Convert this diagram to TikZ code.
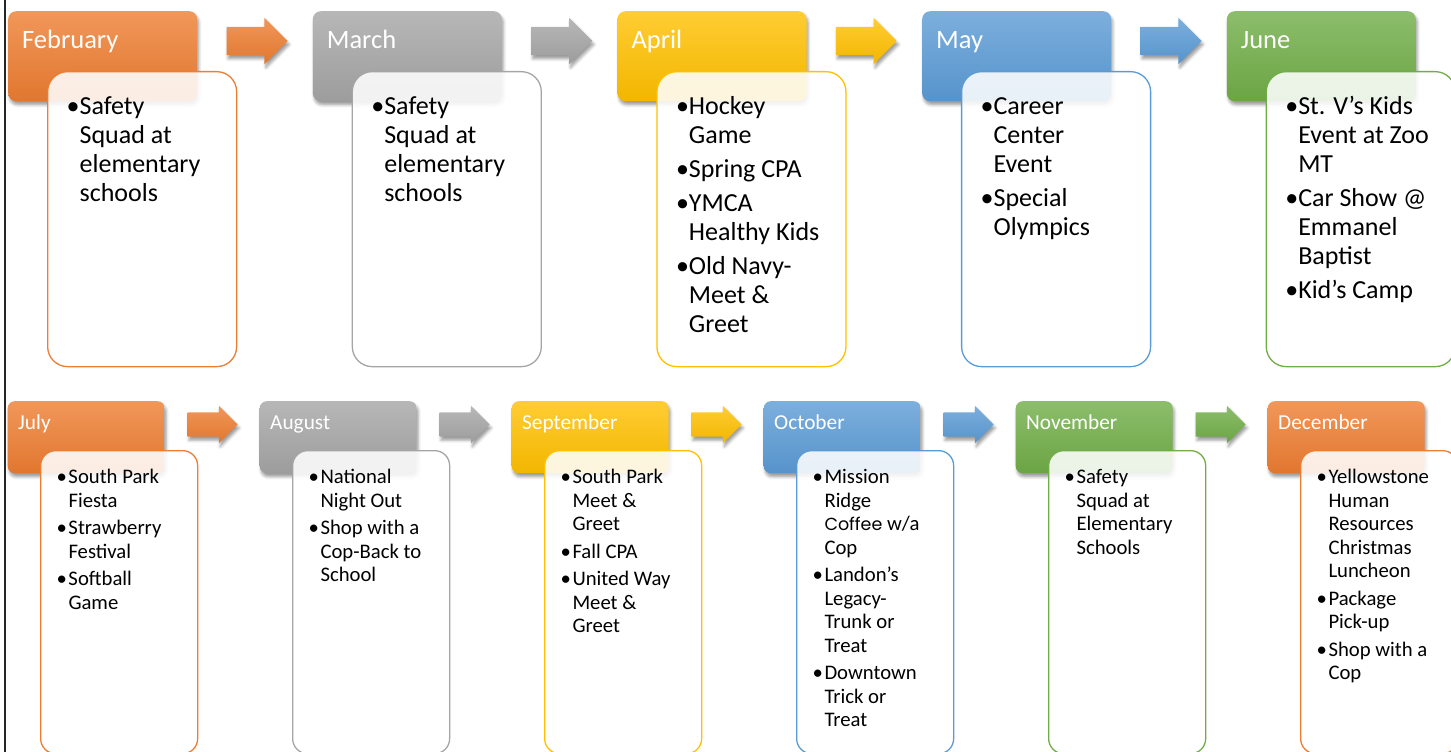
\documentclass[tikz,border=0pt]{standalone}
\usepackage{fontspec}
\setmainfont{Carlito}
\newfontfamily\gothic{Poppins}
\usetikzlibrary{positioning,calc,shapes.arrows,shadows.blur}

\definecolor{orng}{HTML}{ED7D31}
\definecolor{gry}{HTML}{A5A5A5}
\definecolor{gold}{HTML}{FFC000}
\definecolor{blu}{HTML}{5B9BD5}
\definecolor{grn}{HTML}{70AD47}

\newcommand{\tlist}[1]{\begin{tabular}{@{}l@{}l@{}}#1\end{tabular}}
\newcommand{\blist}[1]{\begin{tabular}{@{}l@{\hspace{1.5pt}}l@{}}#1\end{tabular}}

\begin{document}
\begin{tikzpicture}[
    x=1pt, y=-1pt,
    shd/.style={blur shadow={shadow xshift=1.5pt, shadow yshift=-3.5pt, shadow blur radius=3pt, shadow opacity=40}},
    tint/.style={top color=#1!80!white, bottom color=#1!95!black, draw=none},
    thdr/.style={tint=#1, shd, rounded corners=8pt, minimum width=189pt, minimum height=90pt, inner sep=0pt},
    bhdr/.style={tint=#1, shd, rounded corners=7pt, minimum width=157pt, minimum height=72pt, inner sep=0pt},
    tlbl/.style={text=white, anchor=base west, inner sep=0pt, font=\fontsize{26.5}{29}\selectfont},
    blbl/.style={tlbl, font=\fontsize{21.3}{24}\selectfont},
    tcard/.style={draw=#1, line width=1.3pt, fill=white, fill opacity=0.87, rounded corners=20pt, minimum width=189pt, minimum height=295pt, inner sep=0pt},
    bcard/.style={tcard=#1, rounded corners=15pt, minimum width=157pt, minimum height=303pt},
    ttxt/.style={anchor=north west, inner sep=0pt, font=\fontsize{26}{29}\selectfont},
    btxt/.style={ttxt, font=\fontsize{20.7}{23.5}\selectfont},
    tarr/.style={single arrow, anchor=tail, tint=#1, shd, minimum height=61pt, inner xsep=0pt, inner ysep=14pt, single arrow head extend=9pt},
    barr/.style={tarr=#1, minimum height=50pt, inner ysep=12pt, single arrow head extend=6.5pt}
  ]
    \useasboundingbox (0,0) rectangle (1451,752);
    \clip (0,0) rectangle (1451,752);
    \draw[line width=2.2pt, black!85] (5,0) -- (5,752);

    % first half of the year
    \node[thdr=orng, anchor=north west] (feb) at (8,11) {};
    \node[thdr=gry, right=115.25pt of feb] (mar) {};
    \node[thdr=gold, right=115.25pt of mar] (apr) {};
    \node[thdr=blu, right=115.25pt of apr] (may) {};
    \node[thdr=grn, right=115.25pt of may] (jun) {};

    \node[tarr=orng] (a1) at ([xshift=29pt, yshift=-30pt]feb.north east) {};
    \node[tarr=gry] (a2) at ([xshift=29pt, yshift=-30pt]mar.north east) {};
    \node[tarr=gold] (a3) at ([xshift=29pt, yshift=-30pt]apr.north east) {};
    \node[tarr=blu] (a4) at ([xshift=29pt, yshift=-30pt]may.north east) {};

    \node[tlbl] (febl) at ([xshift=14pt, yshift=-37.3pt]feb.north west) {February};
    \node[tlbl] (marl) at ([xshift=14pt, yshift=-37.3pt]mar.north west) {March};
    \node[tlbl] (aprl) at ([xshift=14pt, yshift=-37.3pt]apr.north west) {April};
    \node[tlbl] (mayl) at ([xshift=14pt, yshift=-37.3pt]may.north west) {May};
    \node[tlbl] (junl) at ([xshift=14pt, yshift=-37.3pt]jun.north west) {June};

    \node[tcard=orng, below right=60pt and 39pt of feb.north west] (febc) {};
    \node[tcard=gry, below right=60pt and 39pt of mar.north west] (marc) {};
    \node[tcard=gold, below right=60pt and 39pt of apr.north west] (aprc) {};
    \node[tcard=blu, below right=60pt and 39pt of may.north west] (mayc) {};
    \node[tcard=grn, below right=60pt and 39pt of jun.north west] (junc) {};

    \node[ttxt, below right=23.4pt and 19.5pt of febc.north west] (febt)
      {\tlist{\textbullet&Safety\\&Squad at\\&elementary\\&schools}};
    \node[ttxt, below right=23.4pt and 19.5pt of marc.north west] (mart)
      {\tlist{\textbullet&Safety\\&Squad at\\&elementary\\&schools}};
    \node[ttxt, below right=23.4pt and 19.5pt of aprc.north west] (aprt)
      {\tlist{\textbullet&Hockey\\&Game\\[5pt]\textbullet&Spring CPA\\[5pt]\textbullet&YMCA\\&Healthy Kids\\[5pt]\textbullet&Old Navy-\\&Meet \&\\&Greet}};
    \node[ttxt, below right=23.4pt and 19.5pt of mayc.north west] (mayt)
      {\tlist{\textbullet&Career\\&Center\\&Event\\[5pt]\textbullet&Special\\&Olympics}};
    \node[ttxt, below right=23.4pt and 19.5pt of junc.north west] (junt)
      {\tlist{\textbullet&St. V’s Kids\\&Event at Zoo\\&MT\\[5pt]\textbullet&Car Show @\\&Emmanel\\&Baptist\\[5pt]\textbullet&Kid’s Camp}};

    % second half of the year
    \node[bhdr=orng, anchor=north west] (jul) at (7.5,401) {};
    \node[bhdr=gry, right=94.6pt of jul] (aug) {};
    \node[bhdr=gold, right=94.6pt of aug] (sep) {};
    \node[bhdr=blu, right=94.6pt of sep] (oct) {};
    \node[bhdr=grn, right=94.6pt of oct] (nov) {};
    \node[bhdr=orng, right=94.6pt of nov] (dec) {};

    \node[barr=orng] (b1) at ([xshift=22.5pt, yshift=-23.5pt]jul.north east) {};
    \node[barr=gry] (b2) at ([xshift=22.5pt, yshift=-23.5pt]aug.north east) {};
    \node[barr=gold] (b3) at ([xshift=22.5pt, yshift=-23.5pt]sep.north east) {};
    \node[barr=blu] (b4) at ([xshift=22.5pt, yshift=-23.5pt]oct.north east) {};
    \node[barr=grn] (b5) at ([xshift=22.5pt, yshift=-23.5pt]nov.north east) {};

    \node[blbl] (jull) at ([xshift=10.5pt, yshift=-28.5pt]jul.north west) {July};
    \node[blbl] (augl) at ([xshift=10.5pt, yshift=-28.5pt]aug.north west) {August};
    \node[blbl] (sepl) at ([xshift=10.5pt, yshift=-28.5pt]sep.north west) {September};
    \node[blbl] (octl) at ([xshift=10.5pt, yshift=-28.5pt]oct.north west) {October};
    \node[blbl] (novl) at ([xshift=10.5pt, yshift=-28.5pt]nov.north west) {November};
    \node[blbl] (decl) at ([xshift=10.5pt, yshift=-28.5pt]dec.north west) {December};

    \node[bcard=orng, below right=49pt and 32.5pt of jul.north west] (julc) {};
    \node[bcard=gry, below right=49pt and 32.5pt of aug.north west] (augc) {};
    \node[bcard=gold, below right=49pt and 32.5pt of sep.north west] (sepc) {};
    \node[bcard=blu, below right=49pt and 32.5pt of oct.north west] (octc) {};
    \node[bcard=grn, below right=49pt and 32.5pt of nov.north west] (novc) {};
    \node[bcard=orng, below right=49pt and 32.5pt of dec.north west] (decc) {};

    \node[btxt, below right=17pt and 16.5pt of julc.north west] (jult)
      {\blist{\textbullet&South Park\\&Fiesta\\[4pt]\textbullet&Strawberry\\&Festival\\[4pt]\textbullet&Softball\\&Game}};
    \node[btxt, below right=17pt and 16.5pt of augc.north west] (augt)
      {\blist{\textbullet&National\\&Night Out\\[4pt]\textbullet&Shop with a\\&Cop-Back to\\&School}};
    \node[btxt, below right=17pt and 16.5pt of sepc.north west] (sept)
      {\blist{\textbullet&South Park\\&Meet \&\\&Greet\\[4pt]\textbullet&Fall CPA\\[4pt]\textbullet&United Way\\&Meet \&\\&Greet}};
    \node[btxt, below right=17pt and 16.5pt of octc.north west] (octt)
      {\blist{\textbullet&Mission\\&Ridge\\&{\gothic\fontsize{17.5}{23.5}\selectfont Coffee} w/a\\&Cop\\[4pt]\textbullet&Landon’s\\&Legacy-\\&Trunk or\\&Treat\\[4pt]\textbullet&Downtown\\&Trick or\\&Treat}};
    \node[btxt, below right=17pt and 16.5pt of novc.north west] (novt)
      {\blist{\textbullet&Safety\\&Squad at\\&Elementary\\&Schools}};
    \node[btxt, below right=17pt and 16.5pt of decc.north west] (dect)
      {\blist{\textbullet&Yellowstone\\&Human\\&Resources\\&Christmas\\&Luncheon\\[4pt]\textbullet&Package\\&Pick-up\\[4pt]\textbullet&Shop with a\\&Cop}};
  \end{tikzpicture}
\end{document}
